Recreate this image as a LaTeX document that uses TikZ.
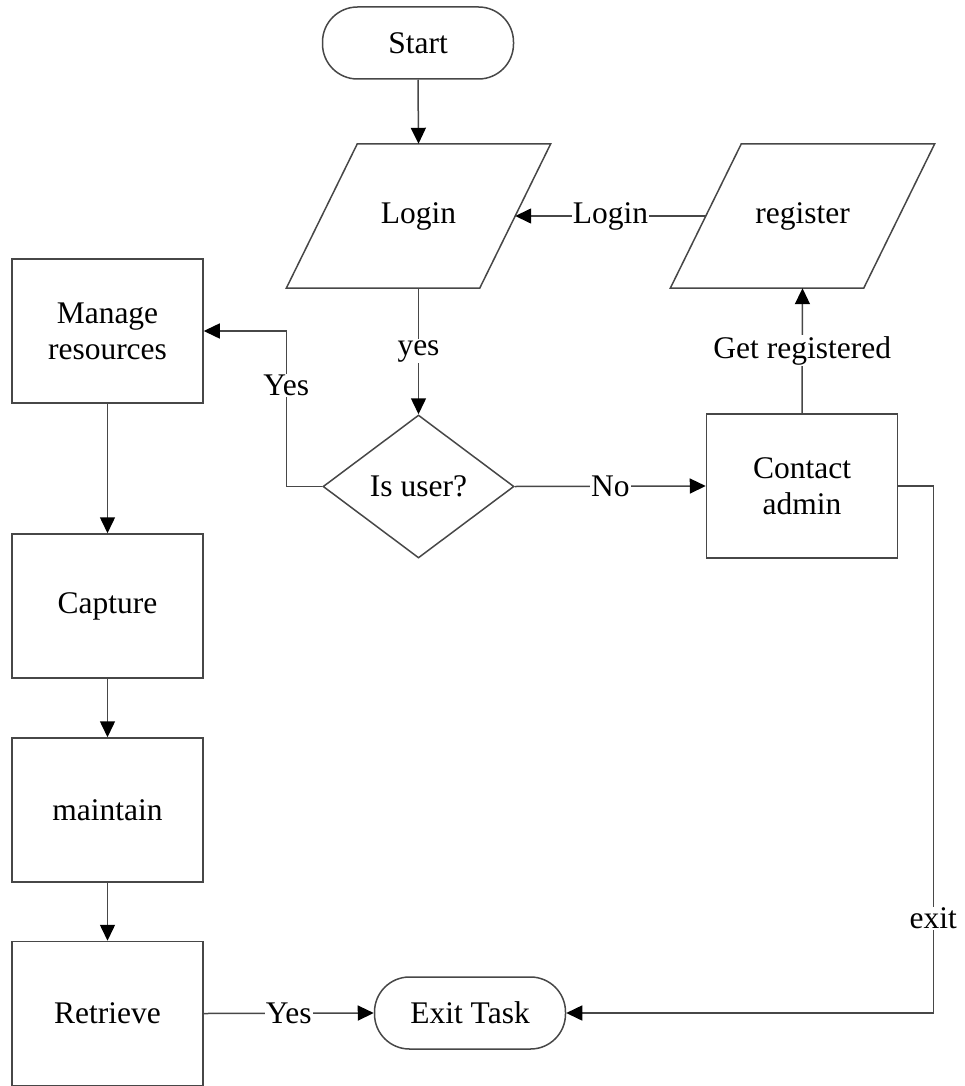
\documentclass[tikz,border=0pt]{standalone}
\usepackage{fontspec}
\setmainfont{Liberation Serif}
\usetikzlibrary{arrows.meta,shapes.geometric,calc}
\begin{document}
\begin{tikzpicture}[x=1pt,y=-1pt,
  font=\fontsize{31.5}{36}\selectfont,
  every node/.style={text=black},
  ln/.style={draw=black!72, line width=1.5pt},
  arr/.style={ln, -{Triangle[length=16pt,width=15pt,color=black]}},
  term/.style={ln, rectangle, rounded corners=35pt, minimum width=191pt, minimum height=72pt, inner sep=0pt},
  proc/.style={ln, rectangle, minimum width=191pt, minimum height=144pt, align=center, inner sep=0pt},
  iobox/.style={rectangle, minimum width=193pt, minimum height=144pt, inner sep=0pt},
  dec/.style={ln, diamond, aspect=1.336, minimum width=191pt, minimum height=143pt, inner sep=0pt},
  lbl/.style={fill=white, inner sep=1pt, text=black}
]
\useasboundingbox (0,0) rectangle (965,1086);

\node[term] (start) at (418,43) {Start};
\node[iobox] (login) at (418.5,216) {Login};
\node[iobox] (register) at (802.5,216) {register};
\foreach \n in {login,register}{
  \draw[ln, line join=miter] ([xshift=35.5pt]\n.north west) -- ([xshift=35.5pt]\n.north east)
    -- ([xshift=-35.5pt]\n.south east) -- ([xshift=-35.5pt]\n.south west) -- cycle;
}
\node[dec] (user) at (418.5,486.5) {Is user?};
\node[proc] (contact) at (802,486) {Contact\\admin};
\node[proc] (manage) at (107.5,331) {Manage\\resources};
\node[proc] (capture) at (107.5,606) {Capture};
\node[proc] (maintain) at (107.5,810) {maintain};
\node[proc] (retrieve) at (107.5,1013.5) {Retrieve};
\node[term] (exit) at (470,1013) {Exit Task};

\draw[arr] (start.south) -- (login.north);
\draw[arr] (register.west) -- node[lbl]{Login} (login.east);
\draw[arr] (login.south) -- node[lbl]{yes} (user.north);
\draw[arr] (user.west) -- ++(-36,0) coordinate (ya) -- (ya |- manage.east) node[lbl, pos=0.65]{Yes} -- (manage.east);
\draw[arr] (user.east) -- node[lbl]{No} (contact.west);
\draw[arr] (contact.north) -- node[lbl]{Get registered} (register.south);
\draw[arr] (contact.east) -- ++(35,0) coordinate (xa) -- (xa |- exit.east) node[lbl, pos=0.82]{exit} -- (exit.east);
\draw[arr] (manage.south) -- (capture.north);
\draw[arr] (capture.south) -- (maintain.north);
\draw[arr] (maintain.south) -- (retrieve.north);
\draw[arr] (retrieve.east) -- node[lbl]{Yes} (exit.west);
\end{tikzpicture}
\end{document}
